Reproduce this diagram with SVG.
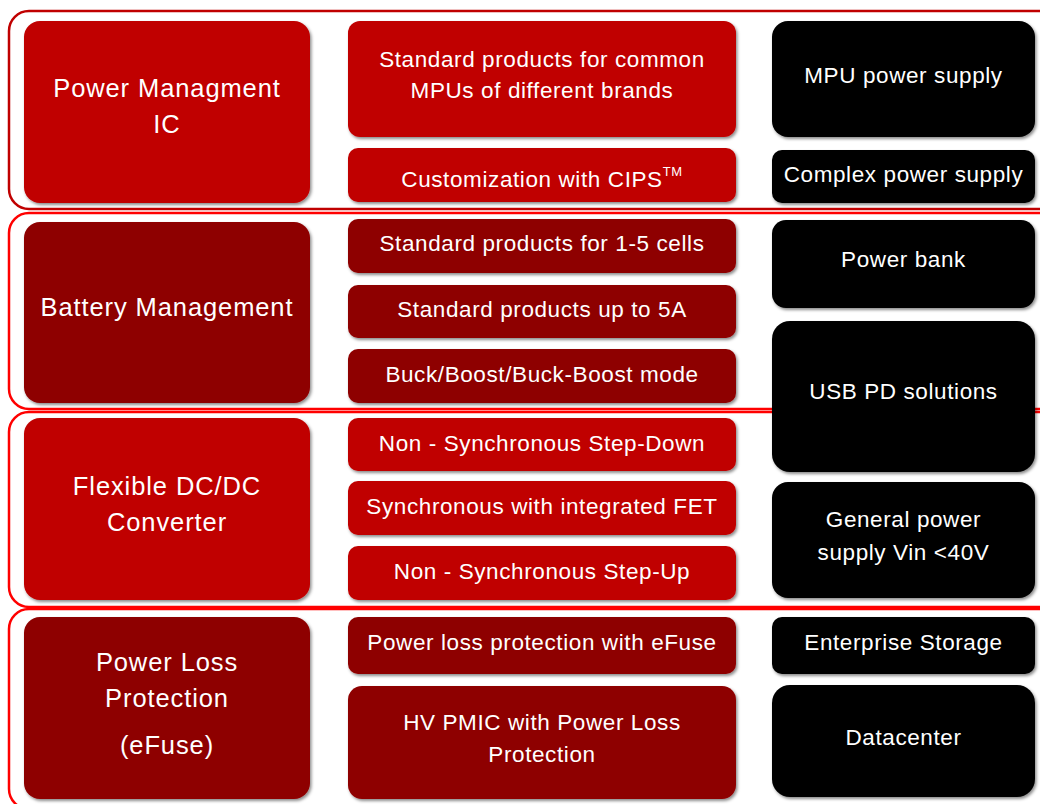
<svg xmlns="http://www.w3.org/2000/svg" width="1040" height="804" viewBox="0 0 1040 804">
<defs>
<filter id="sh" x="-5%" y="-5%" width="112%" height="120%">
<feDropShadow dx="1.5" dy="2" stdDeviation="1.5" flood-color="#000" flood-opacity="0.45"/>
</filter>
</defs>
<style>
.sec{fill:none;stroke-width:2.5}
.s1{stroke:#c00000}
.s2{stroke:#ff0000}
.br{fill:#c00000;filter:url(#sh)}
.dr{fill:#8e0000;filter:url(#sh)}
.bk{fill:#000;filter:url(#sh)}
text{font-family:"Liberation Sans",Arial,sans-serif;fill:#fff;text-anchor:middle}
.big{font-size:25.5px;letter-spacing:0.9px}
.mid{font-size:22.5px;letter-spacing:0.6px}
</style>
<rect width="1040" height="804" fill="#fff"/>
<g id="sections">
<rect class="sec s1" x="9" y="11" width="1060" height="198" rx="20"/>
<rect class="sec s2" x="9" y="213" width="1060" height="196" rx="20"/>
<rect class="sec s2" x="9" y="412" width="1060" height="195" rx="20"/>
<rect class="sec s2" x="9" y="609" width="1060" height="200" rx="20"/>
</g>
<g id="connectors"></g>
<g id="pmic">
<rect class="br" x="24" y="21" width="286" height="182" rx="16"/>
<text class="big" x="167" y="97">Power Managment</text>
<text class="big" x="167" y="133">IC</text>
</g>
<g id="pmic-std">
<rect class="br" x="348" y="21" width="388" height="116" rx="12"/>
<text class="mid" x="542" y="67">Standard products for common</text>
<text class="mid" x="542" y="98">MPUs of different brands</text>
</g>
<g id="pmic-cips">
<rect class="br" x="348" y="148" width="388" height="54" rx="10"/>
<text class="mid" x="542" y="187">Customization with CIPS<tspan dy="-11" font-size="13">TM</tspan></text>
</g>
<g id="mpu">
<rect class="bk" x="772" y="21" width="263" height="116" rx="16"/>
<text class="mid" x="903.5" y="83">MPU power supply</text>
</g>
<g id="complex">
<rect class="bk" x="772" y="150" width="263" height="53" rx="10"/>
<text class="mid" x="903.5" y="182">Complex power supply</text>
</g>
<g id="battery">
<rect class="dr" x="24" y="222" width="286" height="181" rx="16"/>
<text class="big" x="167" y="316">Battery Management</text>
</g>
<g id="bat-cells">
<rect class="dr" x="348" y="219" width="388" height="54" rx="10"/>
<text class="mid" x="542" y="251">Standard products for 1-5 cells</text>
</g>
<g id="bat-5a">
<rect class="dr" x="348" y="285" width="388" height="53" rx="10"/>
<text class="mid" x="542" y="317">Standard products up to 5A</text>
</g>
<g id="bat-mode">
<rect class="dr" x="348" y="349" width="388" height="54" rx="10"/>
<text class="mid" x="542" y="382">Buck/Boost/Buck-Boost mode</text>
</g>
<g id="powerbank">
<rect class="bk" x="772" y="220" width="263" height="88" rx="14"/>
<text class="mid" x="903.5" y="267">Power bank</text>
</g>
<g id="usbpd">
<rect class="bk" x="772" y="321" width="263" height="151" rx="18"/>
<text class="mid" x="903.5" y="399">USB PD solutions</text>
</g>
<g id="dcdc">
<rect class="br" x="24" y="418" width="286" height="182" rx="16"/>
<text class="big" x="167" y="495">Flexible DC/DC</text>
<text class="big" x="167" y="531">Converter</text>
</g>
<g id="dc-down">
<rect class="br" x="348" y="418" width="388" height="53" rx="10"/>
<text class="mid" x="542" y="451">Non - Synchronous Step-Down</text>
</g>
<g id="dc-fet">
<rect class="br" x="348" y="481" width="388" height="54" rx="10"/>
<text class="mid" x="542" y="514">Synchronous with integrated FET</text>
</g>
<g id="dc-up">
<rect class="br" x="348" y="546" width="388" height="54" rx="10"/>
<text class="mid" x="542" y="579">Non - Synchronous Step-Up</text>
</g>
<g id="general">
<rect class="bk" x="772" y="482" width="263" height="116" rx="16"/>
<text class="mid" x="903.5" y="527">General power</text>
<text class="mid" x="903.5" y="560">supply Vin &lt;40V</text>
</g>
<g id="plp">
<rect class="dr" x="24" y="617" width="286" height="182" rx="16"/>
<text class="big" x="167" y="671">Power Loss</text>
<text class="big" x="167" y="707">Protection</text>
<text class="big" x="167" y="754">(eFuse)</text>
</g>
<g id="plp-efuse">
<rect class="dr" x="348" y="617" width="388" height="57" rx="10"/>
<text class="mid" x="542" y="650">Power loss protection with eFuse</text>
</g>
<g id="plp-hv">
<rect class="dr" x="348" y="686" width="388" height="113" rx="14"/>
<text class="mid" x="542" y="730">HV PMIC with Power Loss</text>
<text class="mid" x="542" y="762">Protection</text>
</g>
<g id="storage">
<rect class="bk" x="772" y="617" width="263" height="57" rx="10"/>
<text class="mid" x="903.5" y="650">Enterprise Storage</text>
</g>
<g id="datacenter">
<rect class="bk" x="772" y="685" width="263" height="112" rx="18"/>
<text class="mid" x="903.5" y="745">Datacenter</text>
</g>
</svg>
